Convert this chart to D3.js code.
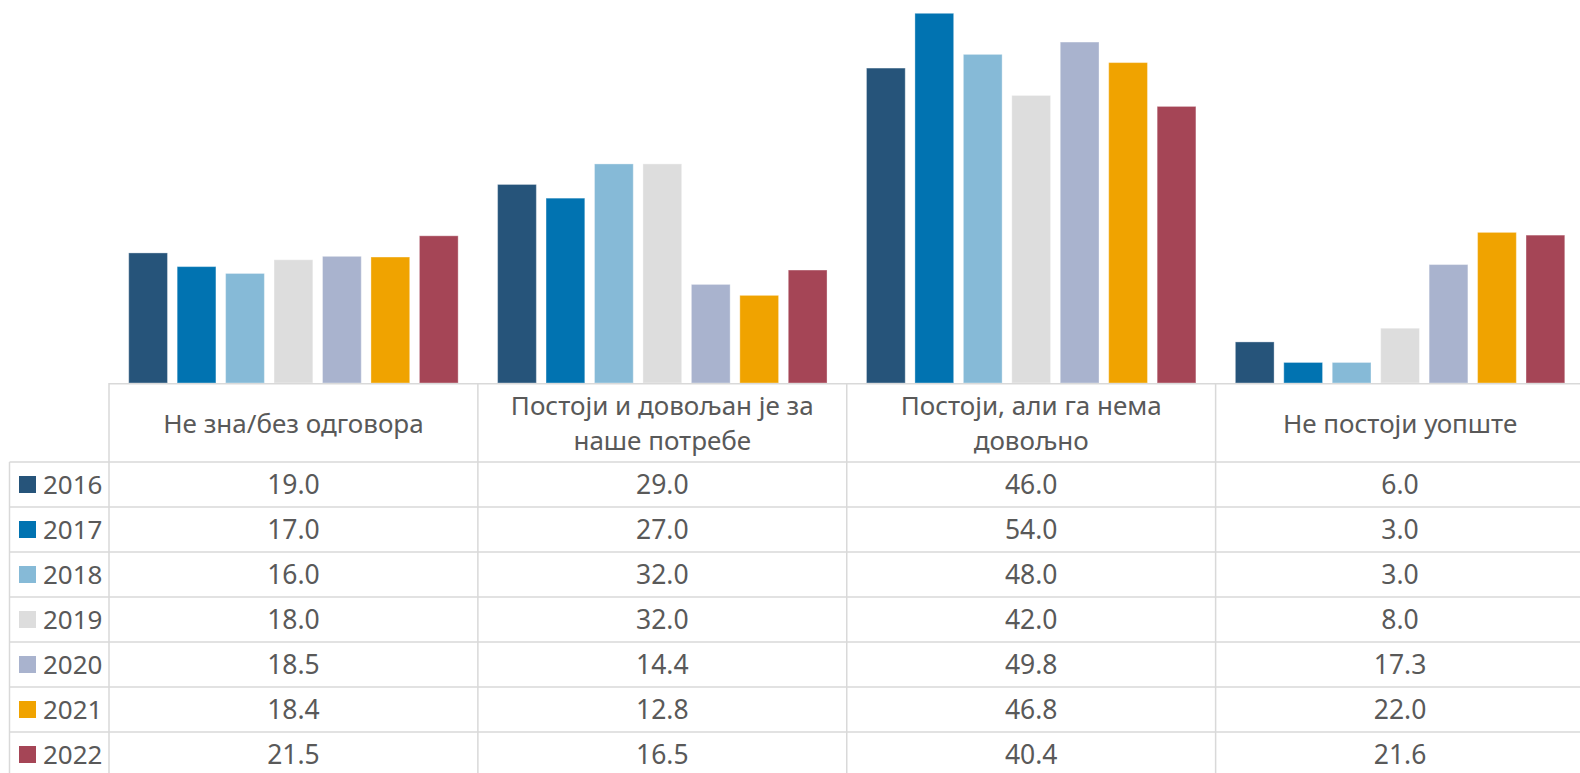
<!DOCTYPE html>
<html><head><meta charset="utf-8">
<script src="https://cdn.jsdelivr.net/npm/d3@7"></script>
<style>html,body{margin:0;padding:0;background:#fff;overflow:hidden}</style>
</head><body>
<svg id="c" width="1580" height="773"></svg>
<script>
const categories = ["Не зна/без одговора", "Постоји и довољан је за наше потребе", "Постоји, али га нема довољно", "Не постоји уопште"];
const categoryLines = [["Не зна/без одговора"], ["Постоји и довољан је за", "наше потребе"], ["Постоји, али га нема", "довољно"], ["Не постоји уопште"]];
const years = ["2016", "2017", "2018", "2019", "2020", "2021", "2022"];
const v2016 = [19.0, 29.0, 46.0, 6.0];
const v2017 = [17.0, 27.0, 54.0, 3.0];
const v2018 = [16.0, 32.0, 48.0, 3.0];
const v2019 = [18.0, 32.0, 42.0, 8.0];
const v2020 = [18.5, 14.4, 49.8, 17.3];
const v2021 = [18.4, 12.8, 46.8, 22.0];
const v2022 = [21.5, 16.5, 40.4, 21.6];
const colors = ["#26547a", "#0173b1", "#86bad7", "#dddddd", "#a9b3ce", "#f0a300", "#a54556"];

const series = [v2016, v2017, v2018, v2019, v2020, v2021, v2022];
const svg = d3.select("#c");
const font = "Noto Sans, sans-serif";
const textColor = "#595959";
const gridColor = "#d9d9d9";

const left = 109, right = 1584.5, base = 383;
const x0 = d3.scaleBand().domain(categories).range([left, right]).padding(0);
const x1 = d3.scaleBand().domain(years).range([0, x0.bandwidth()]).paddingInner(0.2).paddingOuter(0.407);
const y = d3.scaleLinear().domain([0, 54]).range([base, 13.3]);

// bars
const g = svg.append("g");
categories.forEach((c, ci) => {
  years.forEach((yr, si) => {
    const v = series[si][ci];
    g.append("rect")
      .attr("x", x0(c) + x1(yr))
      .attr("y", y(v))
      .attr("width", x1.bandwidth())
      .attr("height", y(0) - y(v))
      .attr("fill", colors[si])
      .attr("stroke", "rgba(255,255,255,0.35)")
      .attr("stroke-width", 1);
  });
});

// table
const headerBottom = 462, rowH = 45, legendLeft = 9.5;
const t = svg.append("g");
const line = (x1_, y1_, x2_, y2_) => t.append("line").attr("x1", x1_).attr("y1", y1_).attr("x2", x2_).attr("y2", y2_)
  .attr("stroke", gridColor).attr("stroke-width", 1.5);
line(left, base + 0.75, right, base + 0.75);
line(legendLeft, headerBottom, right, headerBottom);
years.forEach((yr, i) => {
  const yy = headerBottom + rowH * (i + 1);
  line(legendLeft, yy, right, yy);
});
line(legendLeft, headerBottom, legendLeft, 773);
line(left, base, left, 773);
categories.forEach((c, ci) => {
  if (ci > 0) line(x0(c), base, x0(c), 773);
});

// header text
categories.forEach((c, ci) => {
  const lines = categoryLines[ci];
  const cx = x0(c) + x0.bandwidth() / 2;
  const cy = (base + headerBottom) / 2 + 1;
  const lh = 35;
  lines.forEach((ln, li) => {
    t.append("text")
      .attr("x", cx)
      .attr("y", cy + (li - (lines.length - 1) / 2) * lh)
      .attr("dy", "0.35em")
      .attr("text-anchor", "middle")
      .attr("font-family", font).attr("font-size", 26).attr("fill", textColor)
      .text(ln);
  });
});

// rows
years.forEach((yr, si) => {
  const cy = headerBottom + rowH * si + rowH / 2;
  t.append("rect").attr("x", 19).attr("y", cy - 8.5).attr("width", 17).attr("height", 17).attr("fill", colors[si]);
  t.append("text").attr("x", 43).attr("y", cy).attr("dy", "0.35em")
    .attr("font-family", font).attr("font-size", 26).attr("fill", textColor).text(yr);
  categories.forEach((c, ci) => {
    t.append("text")
      .attr("x", x0(c) + x0.bandwidth() / 2)
      .attr("y", cy).attr("dy", "0.35em")
      .attr("text-anchor", "middle")
      .attr("font-family", font).attr("font-size", 26.5).attr("fill", textColor)
      .text(d3.format(".1f")(series[si][ci]));
  });
});
</script>
</body></html>
